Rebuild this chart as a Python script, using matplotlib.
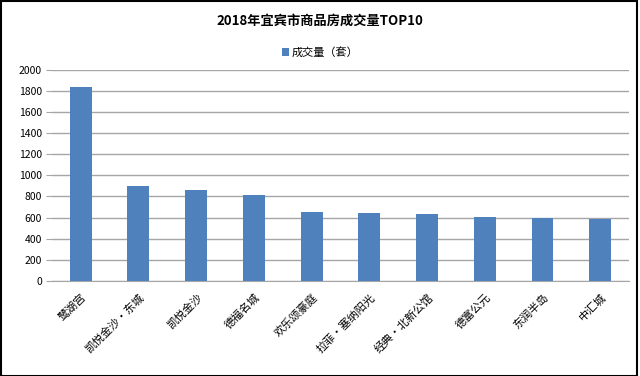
import matplotlib
matplotlib.use("Agg")
import matplotlib.pyplot as plt
from matplotlib.patches import Rectangle

plt.rcParams['font.family'] = ['Noto Sans CJK SC', 'DejaVu Sans']

categories = ["鹭湖宫", "凯悦金沙·东城", "凯悦金沙", "德福名城", "欢乐颂豪庭",
              "拉菲·塞纳阳光", "经典·北新公馆", "德富公元", "东润半岛", "中汇城"]
values = [1840, 900, 865, 815, 650, 640, 630, 610, 597, 585]
yticks = [0, 200, 400, 600, 800, 1000, 1200, 1400, 1600, 1800, 2000]
title = "2018年宜宾市商品房成交量TOP10"
series_name = "成交量（套）"

fig = plt.figure(figsize=(6.4, 3.76), dpi=100)
ax = fig.add_axes([0.081, 0.253, 0.902, 0.561])
x = list(range(len(categories)))
ax.bar(x, values, width=0.38, color="#4F81BD", label=series_name, zorder=3)
ax.set_xlim(-0.5, len(categories) - 0.5)
ax.set_ylim(0, 2000)
ax.set_yticks(yticks)
ax.set_yticklabels([str(v) for v in yticks], fontsize=7.5)
ax.set_xticks(x)
ax.set_xticklabels(categories, rotation=45, ha="right", rotation_mode="anchor", fontsize=8)
ax.yaxis.grid(True, color="#A6A6A6", linewidth=1.0, zorder=0)
for s in ["top", "right", "left"]:
    ax.spines[s].set_visible(False)
ax.spines["bottom"].set_color("#A6A6A6")
ax.tick_params(axis="y", length=4, color="#A6A6A6", pad=3)
ax.tick_params(axis="x", length=0, pad=8)

fig.text(0.50, 0.945, title, ha="center", va="center", fontsize=9.5, fontweight="bold")
fig.legend(loc="center", bbox_to_anchor=(0.50, 0.86), frameon=False, fontsize=8,
           handlelength=0.7, handleheight=0.7, handletextpad=0.2)

fig.patches.append(Rectangle((0.001, 0.001), 0.995, 0.996, transform=fig.transFigure,
                             fill=False, edgecolor="black", linewidth=1.5))
fig.savefig("out.png", dpi=100)
